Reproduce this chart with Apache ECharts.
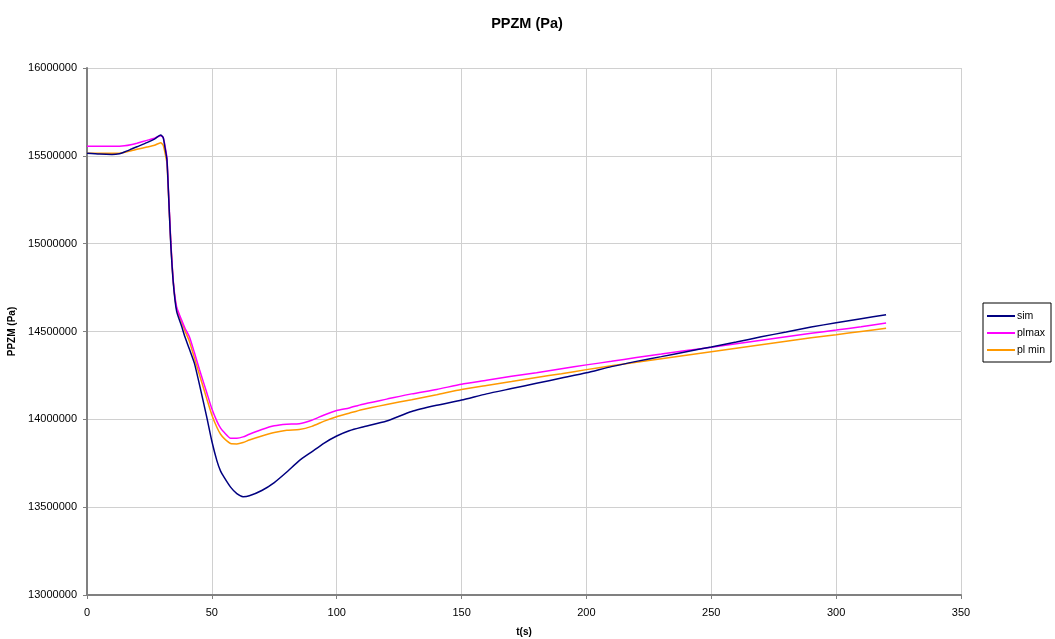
<!DOCTYPE html>
<html>
<head>
<meta charset="utf-8">
<script src="https://cdn.jsdelivr.net/npm/echarts@6/dist/echarts.min.js"></script>
<style>
  html, body { margin: 0; padding: 0; background: #fff; }
  #chart { width: 1055px; height: 639px; }
</style>
</head>
<body>
<div id="chart"></div>
<script>
// Time axis (s)
const timeS = [0, 5, 10, 13, 15, 18, 20, 24, 27, 29.5, 30.5, 31.2, 32, 32.6, 33.5, 34.6, 35.9, 37.9, 39.2, 41, 43, 45, 48, 50, 52, 53.5, 55, 57.5, 60, 62.5, 65, 70, 75, 80, 85, 90, 95, 100, 105, 110, 120, 130, 140, 150, 160, 170, 180, 190, 200, 210, 220, 230, 240, 250, 260, 270, 280, 290, 300, 310, 320];

// Pressure PPZM (Pa)
const sim = [15515000, 15510000, 15508000, 15512000, 15522000, 15540000, 15552000, 15575000, 15595000, 15618000, 15605000, 15550000, 15480000, 15300000, 15010000, 14770000, 14615000, 14530000, 14470000, 14400000, 14320000, 14200000, 14010000, 13875000, 13765000, 13705000, 13668000, 13614000, 13577000, 13560000, 13565000, 13595000, 13640000, 13700000, 13765000, 13815000, 13865000, 13905000, 13935000, 13955000, 13990000, 14045000, 14080000, 14110000, 14145000, 14175000, 14205000, 14235000, 14265000, 14300000, 14330000, 14357000, 14385000, 14412000, 14440000, 14470000, 14497000, 14525000, 14550000, 14573000, 14595000];

const plmax = [15555000, 15555000, 15555000, 15555000, 15557000, 15565000, 15572000, 15588000, 15600000, 15615000, 15605000, 15560000, 15490000, 15310000, 15030000, 14780000, 14640000, 14565000, 14520000, 14470000, 14380000, 14285000, 14150000, 14060000, 13990000, 13950000, 13925000, 13893000, 13893000, 13900000, 13915000, 13942000, 13963000, 13972000, 13975000, 13995000, 14025000, 14050000, 14065000, 14085000, 14115000, 14145000, 14170000, 14200000, 14222000, 14245000, 14265000, 14288000, 14310000, 14330000, 14352000, 14372000, 14392000, 14410000, 14430000, 14450000, 14470000, 14490000, 14508000, 14527000, 14548000];

const plmin = [15515000, 15515000, 15515000, 15515000, 15520000, 15530000, 15537000, 15550000, 15560000, 15575000, 15560000, 15520000, 15460000, 15290000, 15020000, 14775000, 14630000, 14555000, 14505000, 14445000, 14350000, 14255000, 14115000, 14025000, 13955000, 13915000, 13890000, 13862000, 13860000, 13868000, 13882000, 13905000, 13925000, 13938000, 13942000, 13960000, 13990000, 14015000, 14035000, 14055000, 14085000, 14112000, 14140000, 14170000, 14193000, 14215000, 14238000, 14260000, 14283000, 14305000, 14325000, 14345000, 14365000, 14385000, 14405000, 14425000, 14445000, 14465000, 14482000, 14500000, 14518000];

const seriesNames = ['sim', 'plmax', 'pl min'];
const seriesColors = ['#000080', '#FF00FF', '#FF9900'];
const seriesValues = [sim, plmax, plmin];

const font = 'Liberation Sans, Arial, sans-serif';
const chart = echarts.init(document.getElementById('chart'));

chart.setOption({
  backgroundColor: '#ffffff',
  animation: false,
  title: {
    text: 'PPZM (Pa)',
    left: 522,
    textAlign: 'center',
    top: 11,
    textStyle: { fontFamily: font, fontSize: 14.5, fontWeight: 'bold', color: '#000' }
  },
  legend: {
    orient: 'vertical',
    left: 983,
    top: 303,
    padding: [7, 6, 6, 4],
    icon: 'rect',
    itemWidth: 28,
    itemHeight: 2,
    itemGap: 5,
    borderColor: '#000',
    borderWidth: 1,
    textStyle: { fontFamily: font, fontSize: 10.5, color: '#000', lineHeight: 12, padding: [0, 0, 0, -3] },
    data: seriesNames
  },
  grid: { left: 87, right: 94, top: 68, bottom: 44, containLabel: false, outerBoundsMode: 'none' },
  xAxis: {
    type: 'value',
    min: 0, max: 350, interval: 50,
    name: 't(s)',
    nameLocation: 'middle',
    nameGap: 32,
    nameTextStyle: { fontFamily: font, fontSize: 10, fontWeight: 'bold', color: '#000' },
    axisLine: { show: true, onZero: false, lineStyle: { color: '#808080', width: 2 } },
    axisTick: { show: true, length: 4, lineStyle: { color: '#808080', width: 1 } },
    axisLabel: { fontFamily: font, fontSize: 11, color: '#000', margin: 12 },
    splitLine: { show: true, lineStyle: { color: '#d0d0d0', width: 1 } }
  },
  yAxis: {
    type: 'value',
    min: 13000000, max: 16000000, interval: 500000,
    name: 'PPZM (Pa)',
    nameLocation: 'middle',
    nameGap: 65,
    nameRotate: 90,
    nameTextStyle: { fontFamily: font, fontSize: 10, fontWeight: 'bold', color: '#000' },
    axisLine: { show: true, lineStyle: { color: '#808080', width: 2 } },
    axisTick: { show: true, length: 4, lineStyle: { color: '#808080', width: 1 } },
    axisLabel: { fontFamily: font, fontSize: 11, color: '#000', margin: 10, formatter: (v) => String(v) },
    splitLine: { show: true, lineStyle: { color: '#d0d0d0', width: 1 } }
  },
  series: seriesNames.map((name, i) => ({
    name: name,
    type: 'line',
    data: timeS.map((t, k) => [t, seriesValues[i][k]]),
    showSymbol: false,
    symbol: 'none',
    smooth: 0.2,
    color: seriesColors[i],
    lineStyle: { color: seriesColors[i], width: 1.5 },
    z: 10 - i
  }))
});
</script>
</body>
</html>
